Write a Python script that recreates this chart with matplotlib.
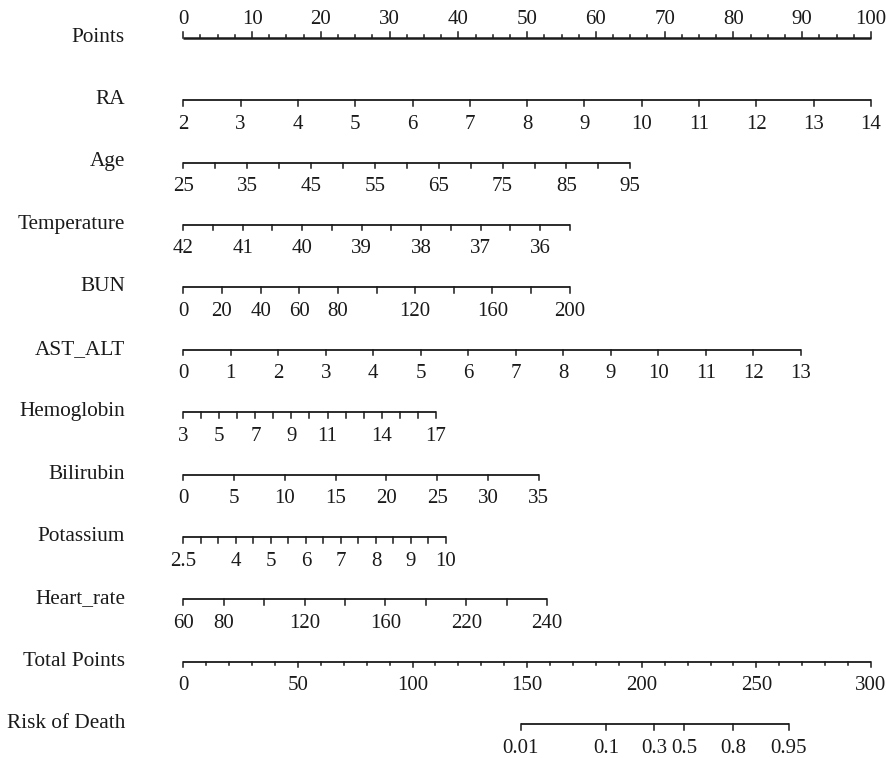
import numpy as np
import matplotlib
matplotlib.use("Agg")
from matplotlib import pyplot as plt

plt.rcParams['font.family'] = ['Liberation Serif', 'DejaVu Serif']

INK = '#1a1a1a'

# --- nomogram scales: tick values, tick labels, and point range of each variable ---
points_ticks = np.arange(0, 100.1, 2.5)
points_labels = list(range(0, 101, 10))

ra_ticks = list(range(2, 15))
ra_labels = [str(v) for v in ra_ticks]
ra_points = (0, 100)

age_ticks = list(range(25, 96, 5))
age_labels = ['25', '', '35', '', '45', '', '55', '', '65', '', '75', '', '85', '', '95']
age_points = (0, 65.0)

temp_ticks = list(np.arange(42, 35.4, -0.5))
temp_labels = ['42', '', '41', '', '40', '', '39', '', '38', '', '37', '', '36', '']
temp_points = (0, 56.2)

bun_ticks = list(range(0, 201, 20))
bun_labels = ['0', '20', '40', '60', '80', '', '120', '', '160', '', '200']
bun_points = (0, 56.2)

ast_ticks = list(range(0, 14))
ast_labels = [str(v) for v in ast_ticks]
ast_points = (0, 89.8)

hb_ticks = list(range(3, 18))
hb_labels = ['3', '', '5', '', '7', '', '9', '', '11', '', '', '14', '', '', '17']
hb_points = (0, 36.7)

bili_ticks = list(range(0, 36, 5))
bili_labels = [str(v) for v in bili_ticks]
bili_points = (0, 51.7)

k_ticks = list(np.arange(2.5, 10.1, 0.5))
k_labels = ['2.5', '', '', '4', '', '5', '', '6', '', '7', '', '8', '', '9', '', '10']
k_points = (0, 38.2)

hr_ticks = list(range(60, 241, 20))
hr_labels = ['60', '80', '', '120', '', '160', '', '220', '', '240']
hr_points = (0, 52.9)

total_ticks = list(range(0, 301, 10))
total_labels = list(range(0, 301, 50))

risk_probs = [0.01, 0.1, 0.3, 0.5, 0.8, 0.95]
risk_labels = ['0.01', '0.1', '0.3', '0.5', '0.8', '0.95']
risk_mid = 218.5      # total points at 50% risk
risk_slope = 15.52    # total points per logit unit

variables = [
    ('RA', ra_ticks, ra_labels, ra_points),
    ('Age', age_ticks, age_labels, age_points),
    ('Temperature', temp_ticks, temp_labels, temp_points),
    ('BUN', bun_ticks, bun_labels, bun_points),
    ('AST_ALT', ast_ticks, ast_labels, ast_points),
    ('Hemoglobin', hb_ticks, hb_labels, hb_points),
    ('Bilirubin', bili_ticks, bili_labels, bili_points),
    ('Potassium', k_ticks, k_labels, k_points),
    ('Heart_rate', hr_ticks, hr_labels, hr_points),
]

# --- figure: one axes covering the canvas, x in "Points", y in row index ---
W, H = 887, 758
fig = plt.figure(figsize=(W / 100, H / 100), dpi=100)
ax = fig.add_axes([0, 0, 1, 1])
ax.set_axis_off()

px_per_pt = 6.877
x0_px = 183.3
row0_px, row_gap = 37.7, 62.42
ax.set_xlim(-x0_px / px_per_pt, (W - x0_px) / px_per_pt)
ax.set_ylim((H - row0_px) / row_gap, -row0_px / row_gap)

tick = 5.5 / row_gap        # tick length in row units
lab_below = 24.0 / row_gap  # tick label offset under the line
lab_above = 18.5 / row_gap  # tick label offset over the line (Points)
name_x = (125 - x0_px) / px_per_pt
FS_NAME, FS_TICK = 15.3, 15


def draw_row(row, name, xs, labels, up=False, short=None, lw=1.3):
    ax.plot([xs[0], xs[-1]], [row, row], color=INK, lw=lw, solid_capstyle='butt')
    sign = -1 if up else 1
    off = lab_above if up else lab_below
    for i, (x, lab) in enumerate(zip(xs, labels)):
        tl = tick if (short is None or not short[i]) else tick * 0.55
        ax.plot([x, x], [row, row + sign * tl], color=INK, lw=1.1)
        if lab:
            ax.text(x, row + sign * off, lab, ha='center', va='center',
                    fontsize=FS_TICK, color=INK)
    ax.text(name_x, row - 0.01, name, ha='right', va='center',
            fontsize=FS_NAME, color=INK)


# Points scale on top, ticks and labels above the line
pt_labels = [str(int(v)) if v in points_labels else '' for v in points_ticks]
pt_short = [v not in points_labels for v in points_ticks]
draw_row(0, 'Points', points_ticks, pt_labels, up=True, short=pt_short, lw=1.8)

for r, (name, ticks, labels, (p0, p1)) in enumerate(variables, start=1):
    xs = np.interp(ticks, [ticks[0], ticks[-1]], [p0, p1]) if ticks[0] < ticks[-1] \
        else np.interp(ticks[::-1], [ticks[-1], ticks[0]], [p1, p0])[::-1]
    draw_row(r, name, xs, labels)

# Total points on the same span as the Points scale
row_total = len(variables) + 1
tot_xs = np.array(total_ticks) / 3.0
tot_lab = [str(v) if v in total_labels else '' for v in total_ticks]
tot_short = [v not in total_labels for v in total_ticks]
draw_row(row_total, 'Total Points', tot_xs, tot_lab, short=tot_short)

# Risk of death through the logit link
p = np.array(risk_probs)
risk_total = risk_mid + risk_slope * np.log(p / (1 - p))
draw_row(row_total + 1, 'Risk of Death', risk_total / 3.0, risk_labels)

fig.savefig('out.png', dpi=100, facecolor='white')
